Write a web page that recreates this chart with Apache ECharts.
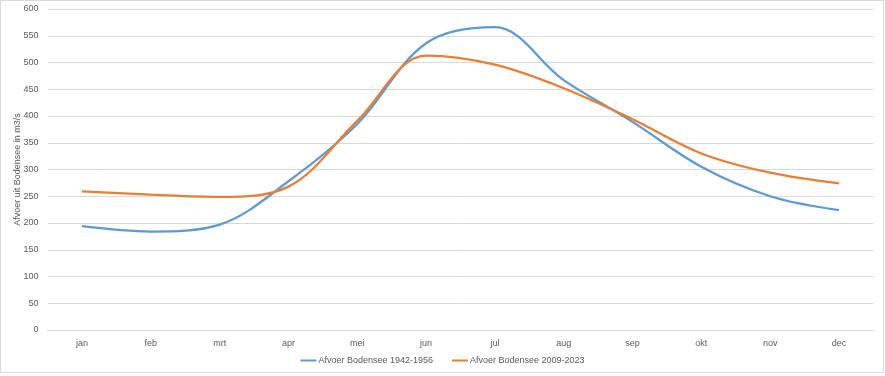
<!DOCTYPE html>
<html>
<head>
<meta charset="utf-8">
<script src="https://cdn.jsdelivr.net/npm/echarts@6/dist/echarts.min.js"></script>
<style>
	html, body { margin: 0; padding: 0; background: #fff; }
	#frame { position: absolute; left: 0; top: 0; width: 882px; height: 371px; border: 1px solid #d9d9d9; }
	#afvoerChart { position: absolute; left: 0; top: 0; width: 885px; height: 376px; }
</style>
</head>
<body>
<div id="frame"></div>
<div id="afvoerChart"></div>
<script>
var maanden = ['jan', 'feb', 'mrt', 'apr', 'mei', 'jun', 'jul', 'aug', 'sep', 'okt', 'nov', 'dec'];
var reeksOud = 'Afvoer Bodensee 1942-1956';
var reeksNieuw = 'Afvoer Bodensee 2009-2023';
var afvoerOud = [194, 184, 197, 278, 385, 536, 566, 467, 389, 305, 250, 224];
var afvoerNieuw = [259, 253, 249, 268, 391, 513, 496, 452, 394, 330, 294, 274];

afvoerChart("afvoerChart");

//afvoer per maand
function afvoerChart(id) {
	var lineChart = echarts.init(document.getElementById(id));
	var tekst = {
		color: '#595959',
		fontFamily: 'Liberation Sans',
		fontSize: 9
	};
	var option = {
		animation: false,
		textStyle: tekst,
		legend: {
			bottom: 6,
			left: 'center',
			itemWidth: 16,
			itemHeight: 2,
			itemGap: 19,
			icon: 'rect',
			textStyle: { color: '#595959', fontFamily: 'Liberation Sans', fontSize: 9, padding: [0, 0, 0, -3] },
			data: [reeksOud, reeksNieuw]
		},
		grid: {
			left: 47.6,
			right: 11.6,
			top: 9,
			bottom: 46,
			outerBoundsMode: 'none'
		},
		xAxis: {
			type: 'category',
			boundaryGap: true,
			data: maanden,
			axisLine: { lineStyle: { color: '#d9d9d9' } },
			axisTick: { show: false },
			axisLabel: { color: '#595959', fontSize: 9, fontFamily: 'Liberation Sans', margin: 9 }
		},
		yAxis: {
			type: 'value',
			min: 0,
			max: 600,
			interval: 50,
			name: 'Afvoer uit Bodensee in m3/s',
			nameLocation: 'middle',
			nameGap: 26,
			nameMoveOverlap: false,
			nameTextStyle: { color: '#595959', fontSize: 9, fontFamily: 'Liberation Sans' },
			axisLine: { show: false },
			axisTick: { show: false },
			axisLabel: { color: '#595959', fontSize: 9, fontFamily: 'Liberation Sans', margin: 9 },
			splitLine: { lineStyle: { color: '#d9d9d9', width: 1 } }
		},
		series: [{
			name: reeksOud,
			type: 'line',
			smooth: 0.35,
			symbol: 'none',
			lineStyle: { color: '#5b9bd5', width: 2.25 },
			itemStyle: { color: '#5b9bd5' },
			data: afvoerOud
		}, {
			name: reeksNieuw,
			type: 'line',
			smooth: 0.35,
			symbol: 'none',
			lineStyle: { color: '#ed7d31', width: 2.25 },
			itemStyle: { color: '#ed7d31' },
			data: afvoerNieuw
		}]
	};
	lineChart.setOption(option);
}
</script>
</body>
</html>
